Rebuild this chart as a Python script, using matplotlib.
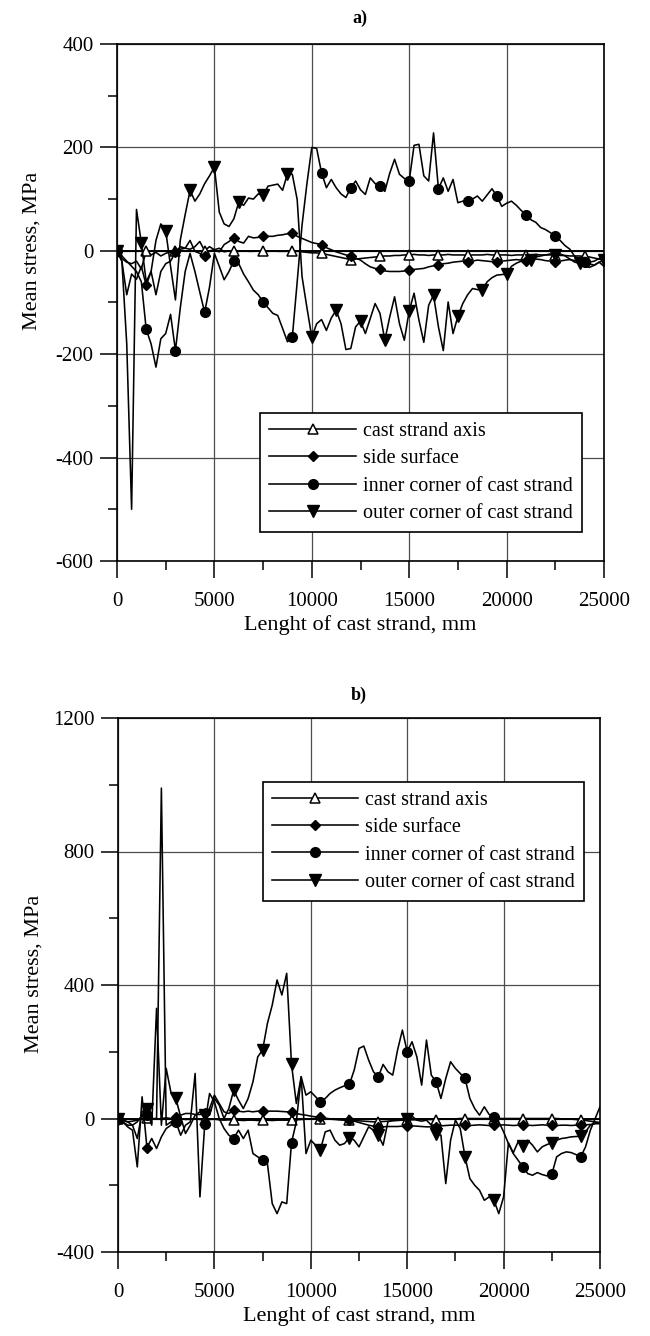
import numpy as np
import matplotlib
matplotlib.use("Agg")
import matplotlib.pyplot as plt
from matplotlib.ticker import MultipleLocator

plt.rcParams['font.family'] = ['Liberation Serif', 'DejaVu Serif']
plt.rcParams['axes.unicode_minus'] = False

# sampling grid along the strand, mm
length_mm = np.arange(0, 25001, 250)

# ---- a) mean stress, MPa ----
a_axis = [0, -15, -22, -25, -20, -35, 0, -8, -3, -10,
          -5, -2, 0, 3, 5, 3, 8, 18, 0, 8,
          2, 5, -2, 0, -1, -1, 0, -1, -1, 0,
          -1, -1, 0, -1, -1, -1, 0, -1, -2, -3,
          -4, -4, -5, -7, -9, -11, -13, -15, -17, -16,
          -15, -14, -13, -12, -11, -10, -10, -9, -9, -8,
          -8, -7, -8, -8, -9, -8, -8, -8, -7, -8,
          -8, -8, -9, -8, -8, -8, -7, -8, -8, -8,
          -8, -9, -8, -8, -8, -8, -7, -8, -8, -8,
          -8, -9, -9, -10, -10, -10, -11, -12, -14, -16, -18]
a_side = [0, -20, -85, -45, -55, -30, -67, -40, -85, -40,
          -25, -20, -3, 8, 5, 20, -1, -5, -11, 0,
          2, -2, 12, 18, 25, 18, 15, 28, 25, 26,
          29, 28, 28, 30, 31, 33, 34, 28, 24, 20,
          16, 14, 12, 6, 2, -2, -5, -8, -10, -14,
          -18, -25, -31, -34, -36, -39, -40, -40, -40, -39,
          -38, -36, -35, -34, -31, -29, -27, -25, -24, -22,
          -21, -20, -21, -20, -18, -19, -20, -21, -21, -20,
          -19, -18, -17, -18, -19, -18, -16, -17, -19, -20,
          -21, -20, -18, -17, -19, -20, -21, -22, -20, -15, -12]
a_inner = [0, -10, -20, -30, -40, -60, -152, -180, -225, -170,
           -160, -123, -193, -110, -40, -5, -40, -80, -119, -70,
           -5, -30, -56, -40, -19, -25, -45, -60, -76, -85,
           -99, -110, -121, -125, -150, -176, -167, -60, 50, 130,
           200, 198, 151, 122, 138, 122, 110, 103, 122, 135,
           118, 109, 141, 130, 125, 115, 150, 177, 148, 140,
           135, 204, 206, 145, 135, 228, 120, 141, 115, 138,
           93, 96, 96, 100, 106, 96, 108, 120, 106, 86,
           92, 96, 88, 78, 70, 60, 55, 45, 41, 35,
           28, 20, 10, 3, -11, -18, -21, -25, -28, -22, -30]
a_outer = [0, -20, -180, -500, 80, 15, -60, -40, 20, 52,
           39, -30, -95, 21, 70, 117, 96, 110, 130, 145,
           162, 75, 52, 47, 62, 94, 88, 102, 100, 110,
           107, 125, 127, 129, 117, 149, 148, 99, -50, -110,
           -167, -141, -133, -154, -130, -115, -141, -191, -189, -147,
           -136, -160, -131, -102, -121, -173, -128, -89, -141, -173,
           -116, -82, -134, -177, -105, -86, -147, -193, -99, -160,
           -127, -102, -85, -73, -75, -76, -60, -52, -47, -46,
           -45, -30, -24, -20, -18, -17, -12, -10, -8, -6,
           -8, -6, -10, -16, -22, -24, -30, -32, -28, -22, -18]

# ---- b) mean stress, MPa ----
b_axis = [0, -5, -10, -8, -5, 0, 2, 0, -2, 0,
          2, 0, -2, 0, -3, -2, 0, -3, -5, -3,
          -2, -4, -5, -4, -5, -5, -6, -5, -5, -6,
          -5, -5, -6, -5, -5, -5, -5, -4, -3, -2,
          -1, 0, 0, -1, -2, -3, -4, -5, -5, -6,
          -7, -8, -9, -10, -10, -9, -8, -7, -6, -5,
          -5, -4, -4, -3, -3, -3, -3, -2, -2, -1,
          -1, 0, 0, 0, 0, 0, 0, 0, 0, 0,
          0, 0, 0, 0, 0, 0, 0, 0, 0, 0,
          0, 0, -1, -1, -2, -3, -5, -6, -8, -10, -12]
b_side = [0, -10, -25, -35, -145, 65, -87, -60, -90, -55,
          -30, -20, 5, 10, 15, 15, 12, 12, 15, 30,
          70, 45, 20, 15, 25, 22, 20, 22, 20, 22,
          23, 22, 22, 22, 21, 20, 20, 15, 12, 10,
          7, 5, 3, 1, -1, -2, -3, -4, -5, -8,
          -12, -16, -20, -23, -25, -25, -24, -24, -24, -23,
          -23, -22, -23, -24, -25, -25, -25, -22, -21, -20,
          -20, -20, -20, -21, -20, -19, -20, -21, -20, -20,
          -19, -20, -21, -20, -20, -20, -21, -20, -19, -20,
          -20, -21, -20, -20, -21, -20, -20, -19, -18, -16, -15]
b_inner = [0, -5, -10, -20, -10, 10, 10, 0, 0, 990,
           -20, -10, -10, -50, -20, -10, 135, -235, -17, 75,
           50, 0, -30, -50, -60, -35, -60, -35, -105, -115,
           -125, -135, -255, -285, -250, -255, -72, -10, 125, 70,
           80, 65, 50, 60, 75, 85, 92, 98, 102, 145,
           210, 217, 175, 140, 125, 162, 140, 130, 205, 265,
           200, 230, 185, 100, 235, 130, 110, 60, 120, 170,
           150, 135, 120, 60, 30, 10, 35, 12, 5, -10,
           -40, -75, -105, -125, -145, -165, -170, -162, -168, -172,
           -167, -115, -105, -100, -102, -108, -115, -85, -35, 0, 35]
b_outer = [0, -10, -20, -20, -60, 20, 27, -20, 330, -20,
           150, 77, 60, 5, -45, -20, 10, 20, 10, 10,
           60, 40, 0, 30, 85, 55, 30, 60, 110, 185,
           205, 285, 340, 415, 370, 435, 162, 45, 125, -105,
           -65, -80, -93, -40, -35, -65, -80, -75, -57, -65,
           -85, -55, -25, -35, -50, -80, -10, -5, -3, 0,
           0, 7, -5, -8, -5, -20, -45, -50, -195, -65,
           -5, -30, -115, -180, -200, -215, -245, -235, -245, -285,
           -235, -73, -103, -70, -82, -65, -80, -100, -85, -78,
           -73, -65, -60, -58, -55, -54, -53, -40, -20, -13, -15]

labels = ["cast strand axis", "side surface",
          "inner corner of cast strand", "outer corner of cast strand"]

FS_TICK = 15
FS_LABEL = 16
FS_LEG = 14.5

styles = [
    dict(marker='^', ms=7, mfc='white', mec='black', mew=1.1),
    dict(marker='D', ms=5.5, mfc='black', mec='black', mew=1.0),
    dict(marker='o', ms=7, mfc='black', mec='black', mew=1.0),
    dict(marker='v', ms=8, mfc='black', mec='black', mew=1.0),
]


def draw_panel(ax, series, every, ylim, ymajor, yminor, legend_anchor, ylab_y):
    for vals, st, lab, ev in zip(series, styles, labels, every):
        ax.plot(length_mm, vals, color='black', lw=1.15, label=lab,
                markevery=ev, **st)
    ax.set_xlim(0, 25000)
    ax.set_ylim(*ylim)
    ax.xaxis.set_major_locator(MultipleLocator(5000))
    ax.xaxis.set_minor_locator(MultipleLocator(2500))
    ax.yaxis.set_major_locator(MultipleLocator(ymajor))
    ax.yaxis.set_minor_locator(MultipleLocator(yminor))
    ax.grid(True, which='major', color='0.3', lw=0.9)
    ax.axhline(0, color='black', lw=1.4, zorder=1.5)
    ax.set_axisbelow(True)
    ax.tick_params(which='major', direction='out', length=12, width=1.1,
                   labelsize=FS_TICK, pad=5, top=False, right=False)
    ax.tick_params(axis='x', which='major', pad=10)
    ax.tick_params(which='minor', direction='out', length=6.5, width=1.1,
                   top=False, right=False)
    for sp in ax.spines.values():
        sp.set_linewidth(1.2)
    ax.set_xlabel("Lenght of cast strand, mm", fontsize=FS_LABEL, labelpad=3)
    ax.set_ylabel("Mean stress, MPa", fontsize=FS_LABEL, labelpad=4)
    ax.yaxis.set_label_coords(-0.155, ylab_y)
    leg = ax.legend(loc='upper left', bbox_to_anchor=legend_anchor,
                    fontsize=FS_LEG, numpoints=1, handlelength=4.3,
                    handletextpad=0.35, labelspacing=0.4, borderpad=0.45,
                    borderaxespad=0, fancybox=False, framealpha=1,
                    edgecolor='black')
    leg.get_frame().set_linewidth(1.2)


fig = plt.figure(figsize=(6.5, 13.36), dpi=100)
W, H = 650, 1336
ax_a = fig.add_axes([117 / W, 1 - 561 / H, (604 - 117) / W, (561 - 44) / H])
ax_b = fig.add_axes([118 / W, 1 - 1252 / H, (600 - 118) / W, (1252 - 718) / H])

draw_panel(ax_a, [a_axis, a_side, a_inner, a_outer], [6, 6, 6, 5],
           (-600, 400), 200, 100, (0.294, 0.286), 0.60)
draw_panel(ax_b, [b_axis, b_side, b_inner, b_outer], [6, 6, 6, 6],
           (-400, 1200), 400, 200, (0.30, 0.88), 0.52)

fig.text(360 / W, 1 - 18 / H, "a)", ha='center', va='center',
         fontsize=13, fontweight='bold')
fig.text(359 / W, 1 - 695 / H, "b)", ha='center', va='center',
         fontsize=13, fontweight='bold')

fig.savefig("out.png", dpi=100)
